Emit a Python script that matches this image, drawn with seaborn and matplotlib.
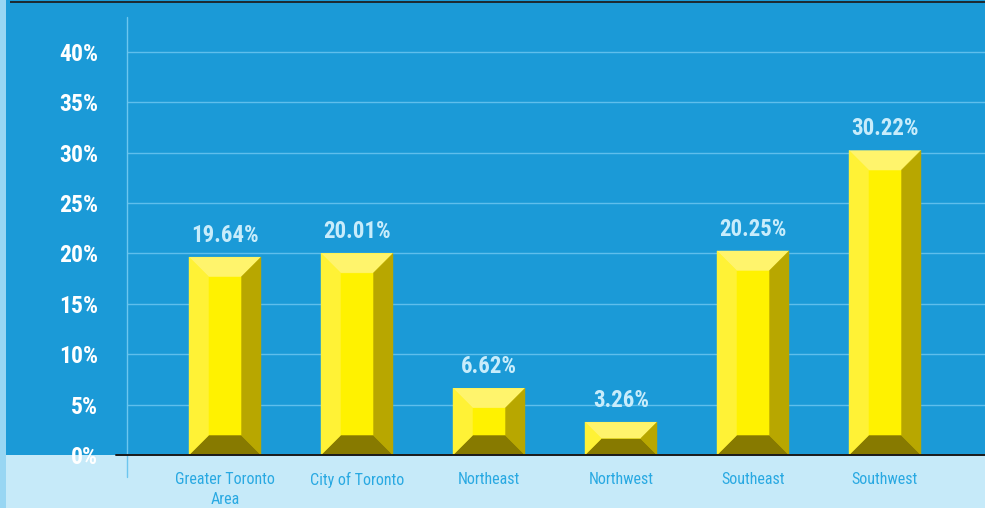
import os
import matplotlib
matplotlib.use("Agg")
import matplotlib.pyplot as plt
from matplotlib import font_manager
from matplotlib.font_manager import FontProperties
from matplotlib.patches import Polygon, Rectangle
from matplotlib.lines import Line2D
import seaborn as sns
import pandas as pd

# Share by region (%)
regions = ["Greater Toronto\nArea", "City of Toronto", "Northeast", "Northwest", "Southeast", "Southwest"]
shares = [19.64, 20.01, 6.62, 3.26, 20.25, 30.22]
y_ticks = [0, 5, 10, 15, 20, 25, 30, 35, 40]

BG = "#1b9ad7"
BAND = "#c6eaf9"
STRIP = "#98d6f3"
GRID = "#5fbeec"
FACE = "#fff200"
TOP = "#fff46c"
LEFT = "#fff236"
RIGHT = "#b8a700"
BOTTOM = "#877a00"

sns.set_theme(style="white")
plt.rcParams["font.family"] = ["Liberation Sans", "DejaVu Sans"]


def _weight(w):
    if isinstance(w, str):
        return font_manager.weight_dict.get(w, 400)
    return int(w)


def condensed_font(bold):
    """Pick a condensed/narrow sans face installed on the system."""
    prefs = ["liberation sans narrow", "roboto condensed", "noto sans", "open sans", "dejavu sans", "roboto", "lato", "inter"]
    best = None
    for f in font_manager.fontManager.ttflist:
        name = f.name.lower()
        fn = os.path.basename(f.fname).lower()
        stretch = str(f.stretch).lower()
        is_cond = ("condensed" in stretch or "narrow" in name or "condensed" in name
                   or "condensed" in fn or "narrow" in fn)
        if not is_cond or "extra" in stretch or "extra" in fn or "ultra" in fn or "semi" in fn:
            continue
        if "mono" in name or "serif" in name.replace("sans", "") and "sans" not in name:
            continue
        if f.style != "normal" or "italic" in fn or "oblique" in fn:
            continue
        w = _weight(f.weight)
        if bold and w < 600 or not bold and (w >= 600 or w < 350):
            continue
        rank = next((i for i, p in enumerate(prefs) if name.startswith(p)), len(prefs))
        score = (rank, abs(w - (700 if bold else 400)))
        if best is None or score < best[0]:
            best = (score, f.fname)
    if best is None:
        return FontProperties(family="Liberation Sans", weight="bold" if bold else "normal")
    return FontProperties(fname=best[1])


FONT_BOLD = condensed_font(True)
FONT_REG = condensed_font(False)

W, H = 985, 508
fig = plt.figure(figsize=(W / 100, H / 100), dpi=100, facecolor=BG)

# plot area in pixels
ax_left, ax_right, ax_top, ax_bottom = 127, 985, 17, 455
ax = fig.add_axes([ax_left / W, (H - ax_bottom) / H, (ax_right - ax_left) / W, (ax_bottom - ax_top) / H])
ax.set_facecolor("none")
ax.set_zorder(2)

# background decorations
fig.patches.append(Rectangle((6 / W, 0), 1, (H - ax_bottom) / H, transform=fig.transFigure,
                             facecolor=BAND, edgecolor="none", zorder=-2))
fig.patches.append(Rectangle((0, 0), 6 / W, 1, transform=fig.transFigure,
                             facecolor=STRIP, edgecolor="none", zorder=-2))
fig.patches.append(Rectangle((10 / W, (H - 3) / H), 1, 2 / H, transform=fig.transFigure,
                             facecolor="#1d2b33", edgecolor="none", zorder=-1))

df = pd.DataFrame({"region": regions, "share": shares})
bar_w = 72 / 132
sns.barplot(data=df, x="region", y="share", color=FACE, saturation=1, width=bar_w,
            edgecolor="none", linewidth=0, ax=ax, zorder=3)

y_max = (ax_bottom - ax_top) / 100.75 * 10
x_lo = -(225 - ax_left) / 132
x_hi = x_lo + (ax_right - ax_left) / 132
ax.set_xlim(x_lo, x_hi)
ax.set_ylim(0, y_max)

px_x = (ax_right - ax_left) / (x_hi - x_lo)
px_y = (ax_bottom - ax_top) / y_max

# bevelled faces on each bar, derived from the bar geometry
for bar in ax.patches[:len(shares)]:
    x0, y0 = bar.get_x(), bar.get_y()
    x1, y1 = x0 + bar.get_width(), y0 + bar.get_height()
    h_px = (y1 - y0) * px_y
    w_px = (x1 - x0) * px_x
    d = min(19.5, h_px / 2.05, w_px / 2.05)
    dx, dy = d / px_x, d / px_y
    faces = [
        ([(x0, y1), (x1, y1), (x1 - dx, y1 - dy), (x0 + dx, y1 - dy)], TOP),
        ([(x0, y0), (x1, y0), (x1 - dx, y0 + dy), (x0 + dx, y0 + dy)], BOTTOM),
        ([(x0, y0), (x0 + dx, y0 + dy), (x0 + dx, y1 - dy), (x0, y1)], LEFT),
        ([(x1, y0), (x1 - dx, y0 + dy), (x1 - dx, y1 - dy), (x1, y1)], RIGHT),
    ]
    for pts, c in faces:
        ax.add_patch(Polygon(pts, closed=True, facecolor=c, edgecolor=c, linewidth=0.3, zorder=4))

# value labels
for i, v in enumerate(shares):
    ax.annotate(f"{v:.2f}%", (i, v), xytext=(0, 11), textcoords="offset points",
                ha="center", va="baseline", fontproperties=FONT_BOLD, fontsize=16.5,
                color="#c8ecfb", zorder=6)

# grid and axes styling
ax.set_yticks(y_ticks)
ax.set_yticklabels([f"{t}%" for t in y_ticks])
ax.grid(axis="y", color=GRID, linewidth=1.0, zorder=1)
ax.grid(axis="x", visible=False)
ax.set_axisbelow(True)
for s in ax.spines.values():
    s.set_visible(False)
ax.tick_params(axis="y", direction="out", length=8, width=1.0, color=GRID, pad=13,
               labelcolor="white")
for lbl in ax.get_yticklabels():
    lbl.set_fontproperties(FONT_BOLD)
    lbl.set_fontsize(17)
    lbl.set_va("center_baseline")
ax.tick_params(axis="x", length=0, pad=12, labelcolor="#29a9e2")
for lbl in ax.get_xticklabels():
    lbl.set_fontproperties(FONT_REG)
    lbl.set_fontsize(11.5)
    lbl.set_linespacing(1.45)
ax.set_xlabel("")
ax.set_ylabel("")

# vertical axis line, running down into the band
ax.add_line(Line2D([0, 0], [-22 / (ax_bottom - ax_top), 1], transform=ax.transAxes,
                   color="#6cc6ef", linewidth=1.0, clip_on=False, zorder=2))
# baseline at zero
ax.add_line(Line2D([-11 / (ax_right - ax_left), 1], [0, 0], transform=ax.transAxes,
                   color="#1a1a1a", linewidth=1.4, clip_on=False, zorder=5))

fig.savefig("out.png", dpi=100, facecolor=BG)
